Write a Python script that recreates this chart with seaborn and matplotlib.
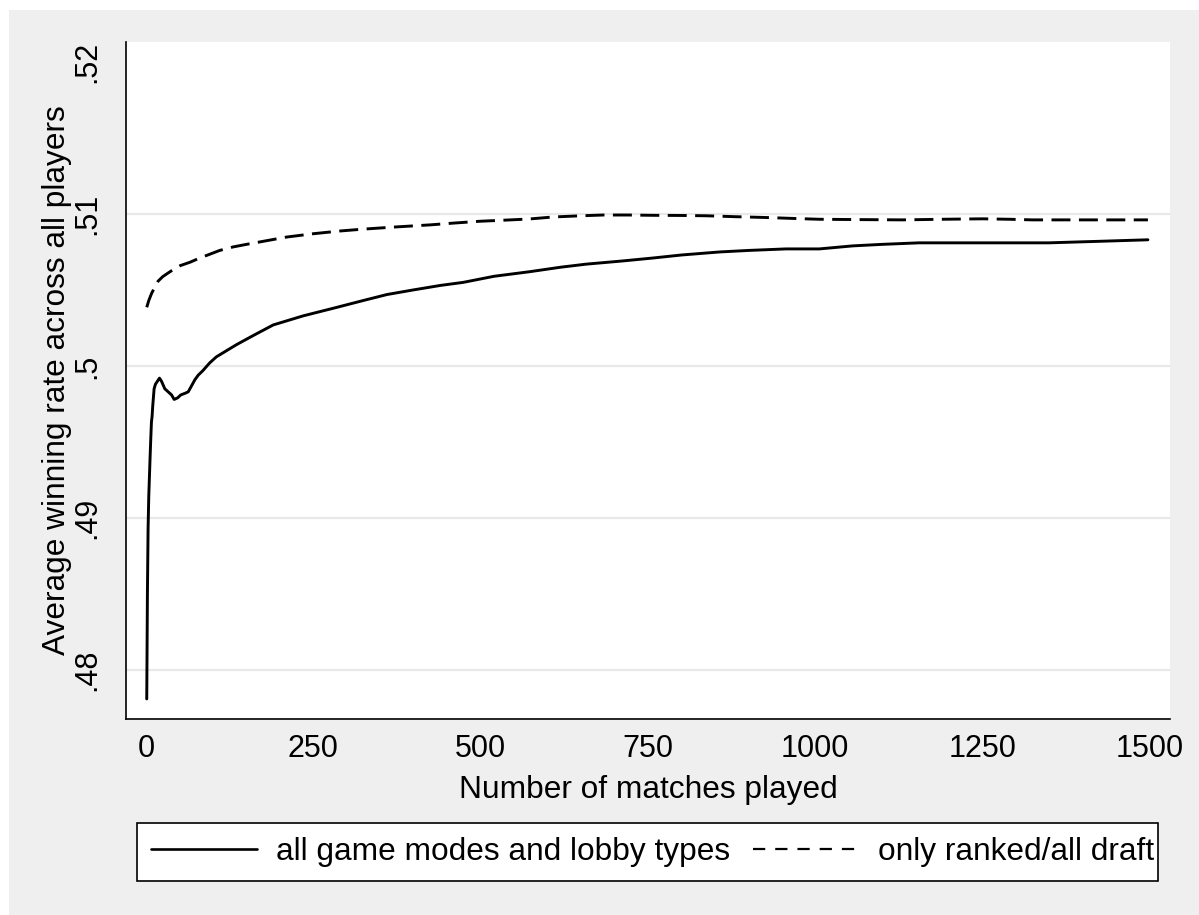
import matplotlib
matplotlib.use("Agg")
import matplotlib.pyplot as plt
from matplotlib.lines import Line2D
from matplotlib.patches import Rectangle
import seaborn as sns
import pandas as pd

# Running average winning rate by number of matches played
matches_all = [1, 2, 3, 4, 5, 6, 7, 8, 9, 10, 12, 14, 17, 20, 23, 28, 33, 38, 42,
               47, 52, 58, 63, 68, 73, 78, 85, 95, 105, 120, 135, 160, 190, 235,
               280, 324, 360, 399, 440, 474, 520, 573, 620, 658, 710, 757, 800,
               857, 900, 956, 1006, 1056, 1100, 1155, 1200, 1275, 1349, 1424, 1497]
winrate_all = [0.4781, 0.4850, 0.4893, 0.4914, 0.4927, 0.4940, 0.4952, 0.4963,
               0.4967, 0.4974, 0.4985, 0.4988, 0.4990, 0.4992, 0.4990, 0.4985,
               0.4983, 0.4981, 0.4978, 0.4979, 0.4981, 0.4982, 0.4983, 0.4987,
               0.4991, 0.4994, 0.4997, 0.5002, 0.5006, 0.5010, 0.5014, 0.5020,
               0.5027, 0.5033, 0.5038, 0.5043, 0.5047, 0.5050, 0.5053, 0.5055,
               0.5059, 0.5062, 0.5065, 0.5067, 0.5069, 0.5071, 0.5073, 0.5075,
               0.5076, 0.5077, 0.5077, 0.5079, 0.5080, 0.5081, 0.5081, 0.5081,
               0.5081, 0.5082, 0.5083]

matches_ranked = [1, 4, 8, 12, 18, 25, 33, 42, 51, 66, 80, 91, 110, 130, 150, 170,
                  210, 250, 290, 324, 375, 424, 460, 499, 540, 573, 608, 650, 683,
                  720, 757, 800, 837, 880, 931, 970, 1006, 1060, 1130, 1190, 1250,
                  1290, 1324, 1380, 1424, 1497]
winrate_ranked = [0.50386, 0.50430, 0.50475, 0.50510, 0.50558, 0.50588, 0.50612,
                  0.50638, 0.50660, 0.50683, 0.50710, 0.50728, 0.50760, 0.50783,
                  0.50800, 0.50816, 0.50848, 0.50870, 0.50888, 0.50900, 0.50915,
                  0.50928, 0.50940, 0.50952, 0.50960, 0.50967, 0.50980, 0.50988,
                  0.50993, 0.50993, 0.50991, 0.50990, 0.50988, 0.50982, 0.50976,
                  0.50970, 0.50965, 0.50963, 0.50961, 0.50965, 0.50968, 0.50965,
                  0.50961, 0.50961, 0.50961, 0.50961]

series_names = ["all game modes and lobby types", "only ranked/all draft"]

x_ticks = [0, 250, 500, 750, 1000, 1250, 1500]
y_ticks = [0.48, 0.49, 0.50, 0.51, 0.52]
y_tick_labels = [".48", ".49", ".5", ".51", ".52"]

df = pd.concat([
    pd.DataFrame({"matches": matches_all, "winrate": winrate_all, "sample": series_names[0]}),
    pd.DataFrame({"matches": matches_ranked, "winrate": winrate_ranked, "sample": series_names[1]}),
], ignore_index=True)

sns.set_style("white")
plt.rcParams["font.family"] = ["Liberation Sans", "DejaVu Sans"]
plt.rcParams["text.color"] = "black"
plt.rcParams["axes.labelcolor"] = "black"

W, H = 1199, 915
fig = plt.figure(figsize=(W / 100, H / 100), dpi=100, facecolor="white")
fig.patches.append(Rectangle((9 / W, 0), 1 - 9 / W, 1 - 10 / H, transform=fig.transFigure,
                             facecolor="#efefef", edgecolor="none", zorder=-10))

ax = fig.add_axes([126 / W, 1 - 719 / H, (1170 - 126) / W, (719 - 42) / H])
ax.set_facecolor("white")

sns.lineplot(data=df, x="matches", y="winrate", style="sample", style_order=series_names,
             dashes={series_names[0]: "", series_names[1]: (6.5, 2.9)},
             color="black", linewidth=2.1, legend=False, ax=ax, zorder=3)

ax.set_xlim(-30, 1530)
ax.set_ylim(0.47678, 0.52131)
ax.set_xticks(x_ticks)
ax.set_yticks(y_ticks)
ax.set_yticklabels(y_tick_labels, rotation=90, va="center")

ax.grid(axis="y", color="#e8e8e8", linewidth=1.6)
ax.yaxis.get_gridlines()[-1].set_visible(False)
ax.set_axisbelow(True)

for side in ("top", "right"):
    ax.spines[side].set_visible(False)
for side in ("left", "bottom"):
    ax.spines[side].set_color("black")
    ax.spines[side].set_linewidth(1.2)

ax.tick_params(axis="both", direction="out", length=9, width=1.2, color="black",
               labelsize=22, labelcolor="black")
ax.tick_params(axis="x", pad=1.5)
ax.tick_params(axis="y", pad=8)

ax.set_xlabel("Number of matches played", fontsize=22.8, color="black", labelpad=8)
ax.set_ylabel("Average winning rate across all players", fontsize=22.8, color="black",
              va="center")
ax.yaxis.set_label_coords(-0.066, 0.5)

# Legend: white box below the plot, entries laid out in one row
fig.patches.append(Rectangle((137 / W, 1 - 881 / H), (1158 - 137) / W, (881 - 823) / H,
                             transform=fig.transFigure, facecolor="white",
                             edgecolor="black", linewidth=1.2, zorder=1))
handles = [Line2D([], [], color="black", linewidth=1.9),
           Line2D([], [], color="black", linewidth=1.6, dashes=(5.5, 4.5))]
leg = fig.legend(handles, series_names, loc="center left", ncol=2,
                 bbox_to_anchor=(151 / W, 1 - 852 / H),
                 fontsize=22.8, frameon=False,
                 handlelength=3.35, handletextpad=0.6, columnspacing=0.72,
                 borderpad=0, borderaxespad=0, labelcolor="black")

fig.savefig("out.png", dpi=100, facecolor=fig.get_facecolor())
